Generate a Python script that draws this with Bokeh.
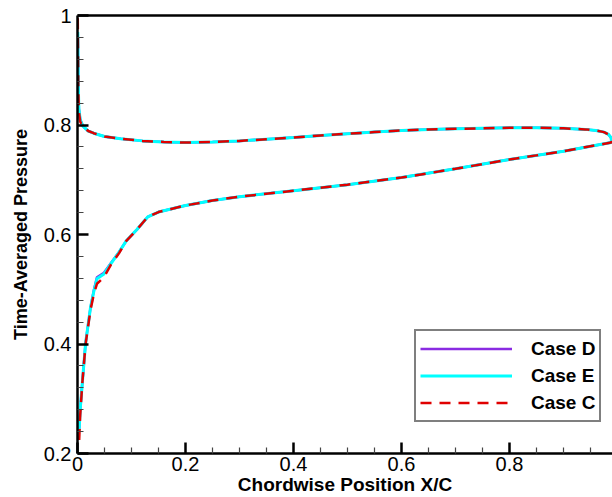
from bokeh.plotting import figure
from bokeh.models import (Range1d, FixedTicker, LinearAxis, Legend, LegendItem,
                          CustomJSTickFormatter)
from bokeh.embed import file_html
from bokeh.resources import INLINE

# ---- data ----
# upper branch: leading edge -> trailing edge
upper_x = [0.0005, 0.001, 0.0015, 0.0025, 0.005, 0.01, 0.02, 0.03, 0.05, 0.08, 0.12,
           0.16, 0.2, 0.25, 0.3, 0.35, 0.4, 0.45, 0.5, 0.55, 0.6, 0.65, 0.7, 0.75,
           0.8, 0.85, 0.9, 0.94, 0.96, 0.975, 0.983, 0.988, 0.989]
upper_E = [0.97, 0.92, 0.87, 0.83, 0.81, 0.798, 0.789, 0.785, 0.779, 0.775, 0.771,
           0.769, 0.768, 0.769, 0.771, 0.774, 0.777, 0.781, 0.784, 0.787, 0.790, 0.792,
           0.793, 0.794, 0.795, 0.795, 0.794, 0.792, 0.790, 0.787, 0.783, 0.777, 0.769]
# lower branch: trailing edge -> leading edge
lower_x = [0.988, 0.9, 0.8, 0.7, 0.6, 0.5, 0.4, 0.3, 0.25, 0.2, 0.15, 0.13, 0.11,
           0.09, 0.077, 0.062, 0.049, 0.036, 0.03, 0.024, 0.015, 0.009, 0.005, 0.003]
lower_E = [0.768, 0.752, 0.737, 0.72, 0.704, 0.691, 0.680, 0.669, 0.662, 0.653, 0.641,
           0.632, 0.609, 0.588, 0.568, 0.547, 0.528, 0.519, 0.495, 0.466, 0.402, 0.33,
           0.28, 0.243]
lower_D = [0.768, 0.752, 0.737, 0.72, 0.704, 0.691, 0.680, 0.669, 0.662, 0.653, 0.641,
           0.632, 0.609, 0.588, 0.568, 0.548, 0.530, 0.522, 0.497, 0.466, 0.402, 0.33,
           0.28, 0.243]
upper_C = [0.995, 0.93, 0.87, 0.825, 0.806, 0.797, 0.789, 0.785, 0.779, 0.775, 0.771,
           0.769, 0.768, 0.769, 0.771, 0.774, 0.777, 0.781, 0.784, 0.787, 0.790, 0.792,
           0.793, 0.794, 0.795, 0.795, 0.794, 0.792, 0.790, 0.787, 0.783, 0.777, 0.769]
lower_C = [0.768, 0.752, 0.737, 0.72, 0.704, 0.691, 0.680, 0.669, 0.662, 0.653, 0.641,
           0.632, 0.609, 0.588, 0.566, 0.545, 0.522, 0.510, 0.49, 0.462, 0.40, 0.33,
           0.27, 0.222]

x_ticks = [0, 0.2, 0.4, 0.6, 0.8]
y_ticks = [0.2, 0.4, 0.6, 0.8, 1.0]
labels = ["Case D", "Case E", "Case C"]

FONT = "Liberation Sans"

p = figure(width=612, height=497, output_backend="svg", toolbar_location=None,
           x_range=Range1d(0, 0.9907), y_range=Range1d(0.2, 1.0),
           min_border_left=77, min_border_right=0, min_border_top=15,
           min_border_bottom=41, x_axis_type=None, y_axis_type=None)
p.outline_line_color = None
p.grid.visible = False
p.background_fill_color = "white"
p.border_fill_color = "white"

fmt = CustomJSTickFormatter(code="return Number(tick.toFixed(2)).toString();")

xminor = [round(i * 0.05, 3) for i in range(0, 21) if i % 4 != 0]
yminor = [round(0.2 + i * 0.04, 3) for i in range(0, 21) if i % 5 != 0]

xa = LinearAxis(ticker=FixedTicker(ticks=x_ticks, minor_ticks=xminor), formatter=fmt,
                axis_label="Chordwise Position X/C")
ya = LinearAxis(ticker=FixedTicker(ticks=y_ticks, minor_ticks=yminor), formatter=fmt,
                axis_label="Time-Averaged Pressure")
for ax in (xa, ya):
    ax.axis_line_width = 2.5
    ax.axis_line_color = "black"
    ax.major_tick_in = 11
    ax.major_tick_out = 0
    ax.minor_tick_in = 6
    ax.minor_tick_out = 0
    ax.major_tick_line_width = 2.5
    ax.minor_tick_line_width = 1.2
    ax.major_tick_line_color = "black"
    ax.minor_tick_line_color = "#444444"
    ax.major_label_text_font = FONT
    ax.major_label_text_font_size = "20px"
    ax.major_label_text_color = "black"
    ax.major_label_text_line_height = 0.6
    ax.axis_label_text_font = FONT
    ax.axis_label_text_font_style = "bold"
    ax.axis_label_text_color = "black"
    ax.axis_label_text_line_height = 0.6
xa.axis_label_text_font_size = "19px"
ya.axis_label_text_font_size = "18px"
xa.major_label_standoff = 3
xa.axis_label_standoff = 0
ya.major_label_standoff = 6
ya.axis_label_standoff = 10
p.add_layout(xa, "below")
p.add_layout(ya, "left")

top = LinearAxis(ticker=FixedTicker(ticks=[]), major_label_text_font_size="0px",
                 major_tick_in=0, major_tick_out=0, minor_tick_in=0, minor_tick_out=0,
                 axis_line_width=2.5, axis_line_color="black", major_label_standoff=0)
p.add_layout(top, "above")

xs = upper_x + lower_x
rD = p.line(xs, upper_E + lower_D, line_color="#8A2BE2", line_width=2.5)
rE = p.line(xs, upper_E + lower_E, line_color="#00FFFF", line_width=3)
rC = p.line(xs, upper_C + lower_C, line_color="#E00000", line_width=2.5, line_dash="11 8")

legend = Legend(items=[LegendItem(label=labels[0], renderers=[rD]),
                       LegendItem(label=labels[1], renderers=[rE]),
                       LegendItem(label=labels[2], renderers=[rC])],
                location=(337, 31))
legend.label_text_font = FONT
legend.label_text_font_size = "19px"
legend.label_text_font_style = "bold"
legend.label_text_color = "black"
legend.glyph_width = 92
legend.glyph_height = 27
legend.label_height = 27
legend.label_standoff = 19
legend.spacing = 0
legend.padding = 4
legend.margin = 0
legend.border_line_color = "black"
legend.border_line_width = 2
legend.background_fill_alpha = 1
p.add_layout(legend)

open("out.html", "w").write(file_html(p, INLINE))
